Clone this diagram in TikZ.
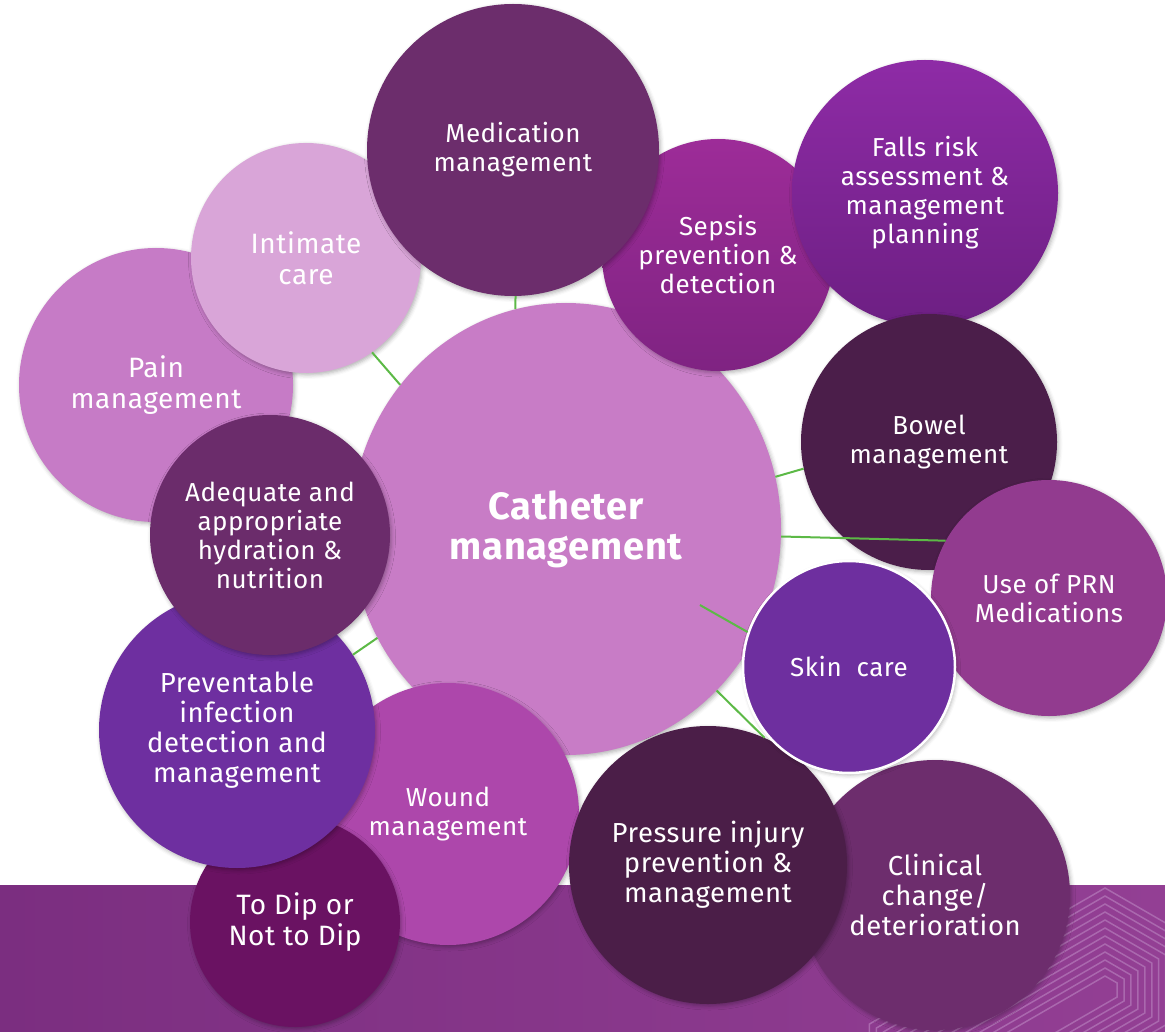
\documentclass[tikz,border=0pt]{standalone}
\usepackage{fontspec}
\setmainfont{Fira Sans}[LetterSpace=2]
\usetikzlibrary{shapes.geometric,shadows.blur}
\definecolor{bandL}{HTML}{7B2E80}
\definecolor{bandR}{HTML}{933F94}
\definecolor{hexcol}{HTML}{AA68AE}
\definecolor{cmed}{HTML}{6C2D6C}
\definecolor{cint}{HTML}{D9A5D8}
\definecolor{cpain}{HTML}{C67BC6}
\definecolor{csepT}{HTML}{9D2C98}
\definecolor{csepB}{HTML}{7F2382}
\definecolor{cfallT}{HTML}{8E2BA6}
\definecolor{cfallB}{HTML}{6D1F83}
\definecolor{cbowel}{HTML}{4B1E4A}
\definecolor{cprn}{HTML}{923B8F}
\definecolor{cskin}{HTML}{6E2F9F}
\definecolor{ccat}{HTML}{C87CC6}
\definecolor{chyd}{HTML}{6B2C6B}
\definecolor{cprev}{HTML}{6E2FA0}
\definecolor{cwound}{HTML}{AD47AB}
\definecolor{cdip}{HTML}{6A1262}
\definecolor{cpres}{HTML}{4B1E48}
\definecolor{cclin}{HTML}{6D2D6D}
\definecolor{linegreen}{HTML}{5CB946}
\begin{document}
\begin{tikzpicture}[x=1pt,y=-1pt,
  bub/.style={circle, inner sep=0pt, text=white, align=center,
    font=\fontsize{26}{29}\selectfont,
    blur shadow={shadow xshift=1.5pt, shadow yshift=-2pt, shadow blur radius=4pt, shadow opacity=30}},
  bigtxt/.style={font=\fontsize{28}{31}\selectfont},
  midtxt/.style={font=\fontsize{27.5}{30}\selectfont},
  conn/.style={draw=linegreen, line width=2pt},
  hexline/.style={draw=hexcol, line width=1.5pt}]
\useasboundingbox (0,0) rectangle (1165,1032);
% bottom band
\shade[left color=bandL, right color=bandR] (0,885) rectangle (1165,1032);
\begin{scope}
  \clip (0,885) rectangle (1165,1032);
  \foreach \R in {14,22,...,102} {
    \draw[hexline] ({1105+0.866*\R},{990-0.5*\R}) -- (1105,{990-\R})
      -- ({957.8-0.866*\R},{1075-0.5*\R}) -- ({957.8-0.866*\R},{1075+0.5*\R})
      -- (957.8,{1075+\R}) -- ({1105+0.866*\R},{990+0.5*\R}) -- cycle;
  }
\end{scope}
% central node
\node[bub, ellipse, fill=ccat, minimum width=430pt, minimum height=452pt,
  font=\bfseries\fontsize{38}{40}\selectfont] (cat) at (566,529) {Catheter\\management};
% surrounding bubbles (back to front)
\node[bub, bigtxt, fill=cpain, minimum size=274pt] (pain) at (156,385) {Pain\\management};
\node[bub, bigtxt, fill=cint, minimum size=230pt] (int) at (306,258) {Intimate\\care};
\node[bub, top color=csepT, bottom color=csepB, minimum size=232pt] (sep) at (718,255) {Sepsis\\prevention \&\\detection};
\node[bub, fill=cmed, minimum size=292pt] (med) at (513,150) {Medication\\management};
\node[bub, top color=cfallT, bottom color=cfallB, minimum size=266pt] (falls) at (925,193) {Falls risk\\assessment \&\\management\\planning};
\node[bub, fill=cbowel, minimum size=256pt] (bowel) at (929,442) {Bowel\\management};
\node[bub, fill=cprn, minimum size=236pt] (prn) at (1049,598) {Use of PRN\\Medications};
\node[bub, midtxt, fill=cclin, minimum size=270pt] (clin) at (935,895) {Clinical\\change/\\deterioration};
\node[bub, fill=cwound, minimum size=262pt] (wound) at (448,814) {Wound\\management};
\node[bub, midtxt, fill=cpres, minimum size=278pt] (pres) at (708,865) {Pressure injury\\prevention \&\\management};
\node[bub, fill=cskin, draw=white, line width=2.5pt, minimum size=212pt] (skin) at (849,667) {Skin\ \ care};
\node[bub, bigtxt, fill=cdip, minimum size=210pt] (dip) at (295,922) {To Dip or\\Not to Dip};
\node[bub, midtxt, fill=cprev, minimum size=276pt] (prev) at (237,730) {Preventable\\infection\\detection and\\management};
\node[bub, fill=chyd, minimum size=240pt] (hyd) at (270,535) {Adequate and\\appropriate\\hydration \&\\nutrition};
% connectors
\draw[conn] (cat.103) -- (med.-89);
\draw[conn] (cat.139) -- (int.-55);
\draw[conn] (cat.14) -- (bowel.192);
\draw[conn] (cat.-2) -- (prn.151);
\draw[conn, shorten <=154pt] (cat.center) -- (skin.161);
\draw[conn] (cat.-47) -- (pres.66);
\draw[conn] (cat.210) -- (prev.33);
\end{tikzpicture}
\end{document}
